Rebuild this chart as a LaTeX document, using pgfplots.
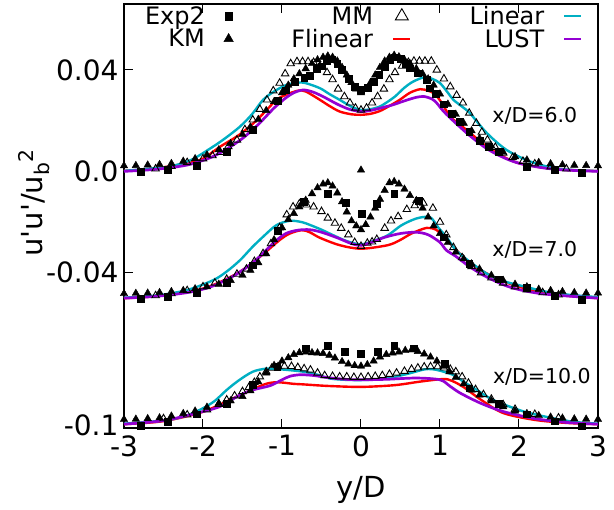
\documentclass[border=0pt]{standalone}
\usepackage{fontspec}
\setmainfont{DejaVu Sans}
\usepackage{pgfplots}
\pgfplotsset{compat=1.18}
\definecolor{lincyan}{RGB}{0,175,195}
\definecolor{lustpurple}{RGB}{148,0,211}
\tikzset{
  expmark/.style={only marks,mark=square*,mark size=3.4pt,black,mark options={fill=black}},
  kmmark/.style={only marks,mark=triangle*,mark size=4.3pt,black,mark options={fill=black}},
  mmmark/.style={only marks,mark=triangle,mark size=4.3pt,black,mark options={line width=0.9pt,fill=white}},
  flin/.style={red,line width=2.4pt,smooth,no marks},
  lin/.style={lincyan,line width=2.4pt,smooth,no marks},
  lust/.style={lustpurple,line width=2.7pt,smooth,no marks},
}
\newcommand{\q}{\textquotesingle}
\begin{document}
\begin{tikzpicture}
\path[use as bounding box] (-124pt,-82pt) rectangle (490pt,428pt);
\begin{axis}[
  scale only axis, width=474pt, height=424pt,
  xmin=-3, xmax=3, ymin=-0.1012, ymax=0.066,
  xtick={-3,-2,-1,0,1,2,3}, xticklabels={-3,-2,-1,0,1,2,3},
  ytick={-0.1,-0.04,0,0.04}, yticklabels={-0.1,-0.04,0.0,0.04},
  tick align=inside, major tick length=9pt,
  xtick pos=both, ytick pos=both,
  axis line style={line width=1.2pt}, tick style={line width=1pt,black},
  tick label style={font=\fontsize{28}{32}\selectfont},
  xticklabel style={yshift=-4pt},
  yticklabel style={xshift=-2pt},
  xlabel={y/D}, ylabel={u\q u\q/u\textsubscript{b}\textsuperscript{2}},
  label style={font=\fontsize{29}{33}\selectfont},
  xlabel style={at={(axis description cs:0.5,-0.146)},anchor=center},
  ylabel style={at={(axis description cs:-0.19,0.531)},anchor=center},
  legend columns=3, legend plot pos=right, legend cell align=right,
  legend style={draw=none, fill=none, at={(0.968,0.995)}, anchor=north east,
    inner sep=0pt, row sep=3pt, font=\fontsize{24}{27}\selectfont,
    nodes={inner sep=0pt},
    /tikz/every odd column/.append style={column sep=19pt},
    /tikz/every even column/.append style={column sep=58pt}},
]
% ---------- x/D = 6.0 ----------
\addplot[expmark,forget plot] coordinates {
(-2.79,0.0000) (-2.45,0.0008) (-2.08,0.0023) (-1.70,0.0078) (-1.37,0.0164)
(-1.05,0.0280) (-0.95,0.0320) (-0.84,0.0355) (-0.72,0.0370) (-0.65,0.0378)
(-0.56,0.0405) (-0.50,0.0415) (-0.43,0.0436) (-0.37,0.0442) (-0.30,0.0425)
(-0.24,0.0400) (-0.16,0.0365) (-0.08,0.0335) (0.00,0.0321) (0.08,0.0330)
(0.16,0.0355) (0.23,0.0380) (0.30,0.0413) (0.37,0.0440) (0.43,0.0450)
(0.50,0.0445) (0.56,0.0425) (0.62,0.0407) (0.72,0.0387) (0.83,0.0360)
(0.87,0.0328) (0.95,0.0305) (1.05,0.0265) (1.15,0.0228) (1.25,0.0195)
(1.37,0.0155) (1.50,0.0122) (1.62,0.0098) (1.74,0.0078) (2.10,0.0019)
(2.45,0.0005) (2.79,-0.0006)};
\addplot[kmmark,forget plot] coordinates {
(-3.00,0.0022) (-2.85,0.0023) (-2.70,0.0025) (-2.55,0.0027) (-2.40,0.0031)
(-2.25,0.0040) (-2.10,0.0050) (-1.95,0.0065) (-1.80,0.0085) (-1.65,0.0110)
(-1.50,0.0145) (-1.40,0.0175) (-1.30,0.0205) (-1.20,0.0240) (-1.10,0.0275)
(-1.00,0.0310) (-0.92,0.0340) (-0.85,0.0365) (-0.78,0.0385) (-0.70,0.0405)
(-0.62,0.0425) (-0.55,0.0440) (-0.48,0.0450) (-0.42,0.0455) (-0.36,0.0450)
(-0.30,0.0435) (-0.24,0.0410) (-0.18,0.0380) (-0.12,0.0350) (-0.06,0.0325)
(0.00,0.0310) (0.06,0.0325) (0.12,0.0350) (0.18,0.0380) (0.24,0.0410)
(0.30,0.0435) (0.36,0.0450) (0.42,0.0458) (0.48,0.0452) (0.55,0.0440)
(0.62,0.0425) (0.70,0.0405) (0.78,0.0385) (0.85,0.0365) (0.92,0.0340)
(1.00,0.0305) (1.10,0.0265) (1.20,0.0225) (1.30,0.0190) (1.40,0.0160)
(1.50,0.0130) (1.65,0.0100) (1.80,0.0075) (1.95,0.0058) (2.10,0.0045)
(2.25,0.0035) (2.40,0.0030) (2.55,0.0026) (2.70,0.0024) (2.85,0.0023)
(3.00,0.0022)};
\addplot[mmmark,forget plot] coordinates {
(-2.60,0.0010) (-2.40,0.0020) (-2.20,0.0035) (-2.00,0.0050) (-1.88,0.0062)
(-1.78,0.0075) (-1.68,0.0098) (-1.57,0.0124) (-1.47,0.0165) (-1.37,0.0203)
(-1.28,0.0245) (-1.19,0.0282) (-1.11,0.0318) (-1.03,0.0348) (-0.96,0.0385)
(-0.89,0.0425) (-0.81,0.0433) (-0.74,0.0433) (-0.67,0.0433) (-0.60,0.0430)
(-0.52,0.0415) (-0.43,0.0390) (-0.36,0.0362) (-0.29,0.0325) (-0.21,0.0295)
(-0.14,0.0270) (-0.07,0.0250) (0.00,0.0242) (0.07,0.0250) (0.14,0.0270)
(0.21,0.0295) (0.29,0.0325) (0.36,0.0362) (0.43,0.0390) (0.52,0.0415)
(0.60,0.0430) (0.67,0.0435) (0.74,0.0435) (0.81,0.0435) (0.89,0.0435)
(0.96,0.0400) (1.05,0.0365) (1.13,0.0334) (1.21,0.0300) (1.29,0.0270)
(1.37,0.0230) (1.46,0.0190) (1.53,0.0155) (1.60,0.0124) (1.70,0.0095)
(1.80,0.0072) (1.92,0.0055) (2.05,0.0040) (2.20,0.0030) (2.40,0.0018)
(2.60,0.0010)};
\addplot[flin,forget plot] coordinates {
(-3.00,0.0002) (-2.60,0.0012) (-2.20,0.0032) (-2.00,0.0050) (-1.78,0.0098)
(-1.56,0.0140) (-1.36,0.0190) (-1.20,0.0240) (-1.07,0.0282) (-0.95,0.0302)
(-0.80,0.0318) (-0.70,0.0315) (-0.52,0.0282) (-0.40,0.0258) (-0.27,0.0236)
(-0.12,0.0225) (0.00,0.0223) (0.12,0.0227) (0.24,0.0238) (0.36,0.0258)
(0.49,0.0282) (0.62,0.0310) (0.75,0.0324) (0.85,0.0318) (0.92,0.0308)
(1.00,0.0280) (1.13,0.0216) (1.25,0.0185) (1.38,0.0152) (1.59,0.0098)
(1.80,0.0058) (2.00,0.0032) (2.30,0.0015) (2.60,0.0006) (3.00,0.0001)};
\addplot[lin,forget plot] coordinates {
(-3.00,0.0002) (-2.70,0.0010) (-2.42,0.0019) (-2.15,0.0045) (-1.87,0.0098)
(-1.70,0.0135) (-1.53,0.0177) (-1.38,0.0225) (-1.24,0.0282) (-1.10,0.0315)
(-0.95,0.0340) (-0.80,0.0350) (-0.70,0.0348) (-0.52,0.0328) (-0.40,0.0305)
(-0.27,0.0282) (-0.12,0.0255) (0.00,0.0242) (0.12,0.0245) (0.24,0.0256)
(0.34,0.0275) (0.43,0.0295) (0.55,0.0330) (0.66,0.0354) (0.80,0.0371)
(0.90,0.0365) (1.00,0.0348) (1.10,0.0310) (1.17,0.0282) (1.28,0.0255)
(1.38,0.0229) (1.59,0.0152) (1.84,0.0085) (2.14,0.0039) (2.44,0.0013)
(2.70,0.0005) (3.00,0.0001)};
\addplot[lust,forget plot] coordinates {
(-3.00,0.0000) (-2.60,0.0008) (-2.20,0.0025) (-1.90,0.0055) (-1.70,0.0088)
(-1.50,0.0130) (-1.30,0.0185) (-1.10,0.0250) (-0.95,0.0290) (-0.85,0.0310)
(-0.73,0.0321) (-0.60,0.0312) (-0.45,0.0290) (-0.30,0.0265) (-0.15,0.0245)
(0.00,0.0236) (0.12,0.0240) (0.24,0.0249) (0.40,0.0262) (0.55,0.0278)
(0.70,0.0292) (0.80,0.0295) (0.90,0.0285) (0.96,0.0269) (1.05,0.0235)
(1.20,0.0190) (1.38,0.0140) (1.59,0.0090) (1.80,0.0055) (2.00,0.0032)
(2.30,0.0014) (2.60,0.0005) (3.00,0.0000)};
% ---------- x/D = 7.0 ----------
\addplot[expmark,forget plot] coordinates {
(-2.79,-0.0502) (-2.45,-0.0495) (-2.08,-0.0480) (-1.70,-0.0440) (-1.37,-0.0370)
(-1.05,-0.0235) (-0.73,-0.0120) (-0.42,-0.0089) (-0.19,-0.0123) (0.01,-0.0167)
(0.20,-0.0126) (0.42,-0.0089) (0.73,-0.0115) (1.05,-0.0260) (1.37,-0.0365)
(1.74,-0.0425) (2.10,-0.0460) (2.45,-0.0490) (2.79,-0.0505)};
\addplot[kmmark,forget plot] coordinates {
(0.00,0.0005)
(-3.00,-0.0482) (-2.85,-0.0481) (-2.70,-0.0480) (-2.55,-0.0478) (-2.40,-0.0474)
(-2.25,-0.0470) (-2.10,-0.0463) (-1.95,-0.0455) (-1.80,-0.0445) (-1.65,-0.0430)
(-1.50,-0.0410) (-1.40,-0.0390) (-1.30,-0.0360) (-1.20,-0.0325) (-1.10,-0.0270)
(-1.00,-0.0222) (-0.92,-0.0190) (-0.85,-0.0166) (-0.78,-0.0140) (-0.70,-0.0114)
(-0.62,-0.0088) (-0.55,-0.0065) (-0.48,-0.0050) (-0.42,-0.0045) (-0.36,-0.0058)
(-0.30,-0.0085) (-0.24,-0.0120) (-0.18,-0.0160) (-0.12,-0.0195) (-0.06,-0.0215)
(0.00,-0.0230) (0.06,-0.0210) (0.12,-0.0180) (0.18,-0.0145) (0.24,-0.0110)
(0.30,-0.0075) (0.36,-0.0045) (0.42,-0.0040) (0.48,-0.0050) (0.55,-0.0070)
(0.62,-0.0095) (0.70,-0.0115) (0.78,-0.0145) (0.85,-0.0180) (0.92,-0.0215)
(1.00,-0.0245) (1.10,-0.0280) (1.20,-0.0318) (1.30,-0.0345) (1.40,-0.0365)
(1.50,-0.0385) (1.65,-0.0410) (1.80,-0.0430) (1.95,-0.0445) (2.10,-0.0455)
(2.25,-0.0465) (2.40,-0.0470) (2.55,-0.0474) (2.70,-0.0478) (2.85,-0.0480)
(3.00,-0.0480)};
\addplot[mmmark,forget plot] coordinates {
(-2.60,-0.0490) (-2.40,-0.0482) (-2.20,-0.0470) (-2.00,-0.0455) (-1.85,-0.0440)
(-1.70,-0.0425) (-1.57,-0.0405) (-1.45,-0.0385) (-1.35,-0.0355) (-1.24,-0.0324)
(-1.14,-0.0285) (-1.03,-0.0222) (-0.94,-0.0171) (-0.86,-0.0140) (-0.78,-0.0128)
(-0.69,-0.0132) (-0.60,-0.0140) (-0.50,-0.0158) (-0.42,-0.0184) (-0.33,-0.0204)
(-0.25,-0.0224) (-0.16,-0.0250) (-0.08,-0.0280) (0.00,-0.0295) (0.08,-0.0283)
(0.14,-0.0278) (0.20,-0.0268) (0.30,-0.0224) (0.38,-0.0195) (0.47,-0.0178)
(0.58,-0.0150) (0.68,-0.0135) (0.79,-0.0125) (0.91,-0.0145) (1.00,-0.0200)
(1.08,-0.0250) (1.17,-0.0300) (1.28,-0.0340) (1.40,-0.0375) (1.52,-0.0400)
(1.65,-0.0420) (1.80,-0.0440) (1.95,-0.0455) (2.10,-0.0467) (2.30,-0.0478)
(2.50,-0.0487)};
\addplot[flin,forget plot] coordinates {
(-3.00,-0.0500) (-2.60,-0.0492) (-2.00,-0.0462) (-1.57,-0.0403) (-1.28,-0.0337)
(-1.03,-0.0271) (-0.90,-0.0245) (-0.75,-0.0232) (-0.65,-0.0240) (-0.52,-0.0262)
(-0.27,-0.0291) (0.00,-0.0305) (0.34,-0.0291) (0.50,-0.0270) (0.64,-0.0245)
(0.83,-0.0223) (0.95,-0.0230) (1.05,-0.0260) (1.17,-0.0298) (1.38,-0.0362)
(1.67,-0.0415) (2.00,-0.0455) (2.50,-0.0487) (3.00,-0.0500)};
\addplot[lin,forget plot] coordinates {
(-3.00,-0.0498) (-2.60,-0.0490) (-2.20,-0.0468) (-1.87,-0.0429) (-1.70,-0.0395)
(-1.53,-0.0350) (-1.38,-0.0300) (-1.24,-0.0258) (-1.07,-0.0212) (-0.90,-0.0195)
(-0.75,-0.0200) (-0.64,-0.0212) (-0.50,-0.0230) (-0.35,-0.0252) (-0.18,-0.0275)
(0.00,-0.0288) (0.18,-0.0272) (0.34,-0.0252) (0.50,-0.0215) (0.64,-0.0193)
(0.75,-0.0182) (0.88,-0.0182) (0.98,-0.0222) (1.08,-0.0258) (1.20,-0.0310)
(1.35,-0.0350) (1.59,-0.0403) (1.80,-0.0432) (2.00,-0.0449) (2.44,-0.0480)
(3.00,-0.0496)};
\addplot[lust,forget plot] coordinates {
(-3.00,-0.0500) (-2.60,-0.0493) (-2.20,-0.0478) (-1.90,-0.0455) (-1.60,-0.0410)
(-1.35,-0.0355) (-1.10,-0.0280) (-0.95,-0.0245) (-0.80,-0.0232) (-0.65,-0.0230)
(-0.50,-0.0240) (-0.30,-0.0262) (-0.12,-0.0285) (0.00,-0.0292) (0.15,-0.0278)
(0.30,-0.0260) (0.50,-0.0245) (0.70,-0.0240) (0.85,-0.0250) (1.00,-0.0280)
(1.08,-0.0311) (1.20,-0.0335) (1.38,-0.0377) (1.60,-0.0418) (1.90,-0.0458)
(2.30,-0.0483) (3.00,-0.0500)};
% ---------- x/D = 10.0 ----------
\addplot[expmark,forget plot] coordinates {
(-2.79,-0.1003) (-2.45,-0.0988) (-2.08,-0.0958) (-1.70,-0.0915) (-1.37,-0.0842)
(-1.06,-0.0770) (-0.70,-0.0697) (-0.42,-0.0688) (-0.21,-0.0710) (0.00,-0.0719)
(0.21,-0.0710) (0.42,-0.0688) (0.67,-0.0697) (1.06,-0.0760) (1.37,-0.0855)
(1.74,-0.0915) (2.10,-0.0958) (2.45,-0.0985) (2.79,-0.1005)};
\addplot[kmmark,forget plot] coordinates {
(-3.00,-0.0978) (-2.85,-0.0977) (-2.70,-0.0975) (-2.55,-0.0972) (-2.40,-0.0965)
(-2.25,-0.0955) (-2.10,-0.0945) (-1.95,-0.0930) (-1.80,-0.0915) (-1.65,-0.0905)
(-1.50,-0.0888) (-1.40,-0.0865) (-1.30,-0.0830) (-1.20,-0.0795) (-1.10,-0.0765)
(-1.00,-0.0748) (-0.92,-0.0735) (-0.85,-0.0722) (-0.78,-0.0715) (-0.70,-0.0712)
(-0.62,-0.0715) (-0.55,-0.0716) (-0.48,-0.0718) (-0.40,-0.0725) (-0.33,-0.0736)
(-0.24,-0.0750) (-0.16,-0.0760) (-0.08,-0.0766) (0.00,-0.0768) (0.08,-0.0762)
(0.16,-0.0748) (0.24,-0.0732) (0.32,-0.0722) (0.40,-0.0716) (0.48,-0.0712)
(0.56,-0.0706) (0.64,-0.0704) (0.72,-0.0710) (0.80,-0.0720) (0.88,-0.0732)
(0.96,-0.0748) (1.04,-0.0768) (1.12,-0.0790) (1.20,-0.0812) (1.30,-0.0838)
(1.40,-0.0862) (1.50,-0.0882) (1.65,-0.0905) (1.80,-0.0928) (1.95,-0.0945)
(2.10,-0.0955) (2.25,-0.0963) (2.40,-0.0969) (2.55,-0.0973) (2.70,-0.0976)
(2.85,-0.0977) (3.00,-0.0978)};
\addplot[mmmark,forget plot] coordinates {
(-2.50,-0.0975) (-2.20,-0.0960) (-1.95,-0.0940) (-1.80,-0.0918) (-1.70,-0.0901)
(-1.60,-0.0885) (-1.50,-0.0868) (-1.42,-0.0852) (-1.35,-0.0832) (-1.28,-0.0810)
(-1.20,-0.0790) (-1.13,-0.0776) (-1.05,-0.0770) (-0.97,-0.0768) (-0.88,-0.0769)
(-0.80,-0.0773) (-0.72,-0.0778) (-0.64,-0.0783) (-0.55,-0.0795) (-0.46,-0.0805)
(-0.36,-0.0808) (-0.27,-0.0810) (-0.18,-0.0810) (-0.09,-0.0812) (0.00,-0.0812)
(0.09,-0.0810) (0.18,-0.0808) (0.27,-0.0805) (0.36,-0.0800) (0.45,-0.0795)
(0.55,-0.0788) (0.64,-0.0780) (0.72,-0.0775) (0.80,-0.0771) (0.88,-0.0770)
(0.97,-0.0770) (1.05,-0.0775) (1.13,-0.0780) (1.20,-0.0790) (1.28,-0.0810)
(1.36,-0.0835) (1.45,-0.0860) (1.55,-0.0880) (1.65,-0.0898) (1.80,-0.0920)
(1.95,-0.0938) (2.20,-0.0958) (2.50,-0.0972)};
\addplot[flin,forget plot] coordinates {
(-3.00,-0.0997) (-2.50,-0.0985) (-2.00,-0.0948) (-1.57,-0.0888) (-1.24,-0.0842)
(-1.10,-0.0832) (-0.99,-0.0833) (-0.85,-0.0838) (-0.73,-0.0840) (-0.43,-0.0846)
(0.00,-0.0850) (0.43,-0.0843) (0.75,-0.0829) (1.04,-0.0819) (1.15,-0.0826)
(1.30,-0.0851) (1.52,-0.0901) (1.80,-0.0953) (2.20,-0.0980) (2.60,-0.0992)
(3.00,-0.0997)};
\addplot[lin,forget plot] coordinates {
(-3.00,-0.0995) (-2.70,-0.0988) (-2.43,-0.0980) (-2.20,-0.0962) (-2.00,-0.0934)
(-1.85,-0.0905) (-1.70,-0.0862) (-1.55,-0.0825) (-1.37,-0.0790) (-1.20,-0.0778)
(-1.05,-0.0780) (-0.90,-0.0784) (-0.73,-0.0790) (-0.55,-0.0802) (-0.39,-0.0817)
(-0.20,-0.0822) (0.00,-0.0823) (0.20,-0.0820) (0.40,-0.0812) (0.62,-0.0796)
(0.80,-0.0781) (0.90,-0.0780) (1.00,-0.0786) (1.17,-0.0803) (1.30,-0.0830)
(1.43,-0.0855) (1.67,-0.0901) (2.00,-0.0941) (2.20,-0.0958) (2.44,-0.0974)
(2.70,-0.0988) (3.00,-0.0995)};
\addplot[lust,forget plot] coordinates {
(-3.00,-0.0997) (-2.50,-0.0983) (-2.10,-0.0955) (-1.79,-0.0928) (-1.55,-0.0885)
(-1.37,-0.0862) (-1.15,-0.0845) (-1.00,-0.0822) (-0.90,-0.0808) (-0.77,-0.0802)
(-0.60,-0.0805) (-0.43,-0.0813) (-0.20,-0.0820) (0.00,-0.0822) (0.32,-0.0820)
(0.70,-0.0815) (1.00,-0.0822) (1.13,-0.0848) (1.26,-0.0875) (1.52,-0.0915)
(1.80,-0.0947) (2.20,-0.0975) (2.60,-0.0990) (3.00,-0.0997)};
% ---------- legend ----------
\addlegendimage{expmark,mark size=3.8pt}\addlegendentry{Exp2}
\addlegendimage{mmmark,mark size=7.5pt}\addlegendentry{MM}
\addlegendimage{lincyan,line width=2.4pt}\addlegendentry{Linear}
\addlegendimage{kmmark,mark size=5.5pt}\addlegendentry{KM}
\addlegendimage{red,line width=2.4pt}\addlegendentry{Flinear}
\addlegendimage{lustpurple,line width=2.4pt}\addlegendentry{LUST}
\node[font=\fontsize{20.5}{24}\selectfont] at (axis cs:2.2,0.0219) {x/D=6.0};
\node[font=\fontsize{20.5}{24}\selectfont] at (axis cs:2.2,-0.0309) {x/D=7.0};
\node[font=\fontsize{20.5}{24}\selectfont] at (axis cs:2.29,-0.0809) {x/D=10.0};
\end{axis}
\end{tikzpicture}
\end{document}
